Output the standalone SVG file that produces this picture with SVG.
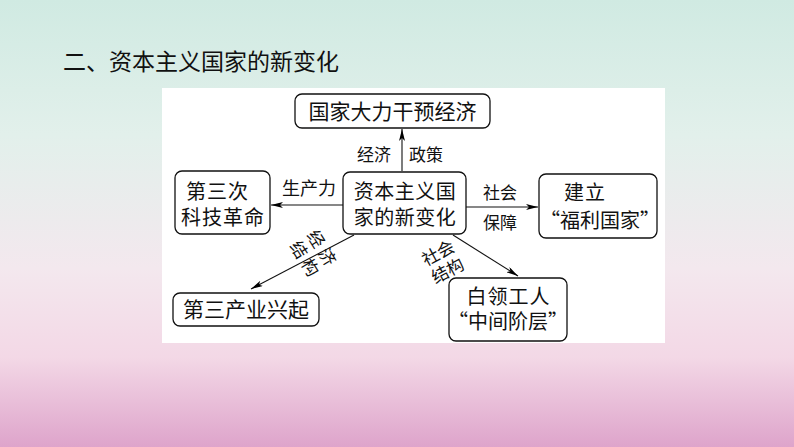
<svg xmlns="http://www.w3.org/2000/svg" width="794" height="447" viewBox="0 0 794 447">
  <defs>
    <linearGradient id="bg" x1="0" y1="0" x2="0" y2="1">
      <stop offset="0" stop-color="#d0eae2"/>
      <stop offset="0.3" stop-color="#e2f0eb"/>
      <stop offset="0.6" stop-color="#f3e8ee"/>
      <stop offset="0.8" stop-color="#f3d8e6"/>
      <stop offset="1" stop-color="#dea4cb"/>
    </linearGradient>
    <marker id="arr" viewBox="0 0 12 6" refX="12" refY="3" markerWidth="12" markerHeight="6" markerUnits="userSpaceOnUse" orient="auto">
      <path d="M0,0 L12,3 L0,6 L3,3 Z" fill="#000"/>
    </marker>
    <style>
      .box{fill:#fff;stroke:#111;stroke-width:1.3}
      .t{font-family:"Noto Sans CJK SC","Noto Sans CJK TC",sans-serif;fill:#111}
      .m{font-family:"Liberation Sans","Noto Sans CJK SC",sans-serif;fill:#111}
      .q{font-family:"Noto Sans CJK SC",sans-serif}
      .n{font-size:20px}
      .l{font-size:17px}
      .c{fill:none;stroke:#111;stroke-width:1.1;marker-end:url(#arr)}
    </style>
  </defs>
  <rect x="0" y="0" width="794" height="447" fill="url(#bg)"/>
  <text class="t" x="63" y="70" font-size="23">二、资本主义国家的新变化</text>
  <rect x="162" y="88" width="503" height="255" fill="#fff"/>

  <g id="connectors">
    <line class="c" x1="402" y1="171" x2="402" y2="129"/>
    <line class="c" x1="343" y1="205" x2="271" y2="205"/>
    <line class="c" x1="466" y1="207" x2="538" y2="207"/>
    <line class="c" x1="354" y1="235" x2="251" y2="289"/>
    <line class="c" x1="453" y1="235" x2="518" y2="276"/>
    <text class="t l" x="357" y="161">经济</text>
    <text class="t l" x="409" y="161">政策</text>
    <text class="t" x="282" y="195" font-size="18">生产力</text>
    <text class="t l" x="483" y="199">社会</text>
    <text class="t l" x="483" y="229">保障</text>
    <g transform="translate(314,255) rotate(58)">
      <text class="m l" x="0" y="-4" text-anchor="middle" letter-spacing="4">经济</text>
      <text class="m l" x="0" y="16" text-anchor="middle" letter-spacing="4">结构</text>
    </g>
    <g transform="translate(443,262) rotate(-28)">
      <text class="m l" x="0" y="-4" text-anchor="middle">社会</text>
      <text class="m l" x="0" y="16" text-anchor="middle">结构</text>
    </g>
  </g>

  <g id="top">
    <rect class="box" x="295" y="94" width="195" height="34" rx="7"/>
    <text class="t" x="392.5" y="119" text-anchor="middle" font-size="21">国家大力干预经济</text>
  </g>
  <g id="center">
    <rect class="box" x="343" y="172" width="123" height="62" rx="7"/>
    <text class="m n" x="405" y="199" text-anchor="middle" letter-spacing="0.5">资本主义国</text>
    <text class="m n" x="405" y="225" text-anchor="middle" letter-spacing="0.5">家的新变化</text>
  </g>
  <g id="left">
    <rect class="box" x="175" y="171" width="95" height="63" rx="7"/>
    <text class="m n" x="186" y="199" letter-spacing="1">第三次</text>
    <text class="m n" x="181" y="225" letter-spacing="1">科技革命</text>
  </g>
  <g id="right">
    <rect class="box" x="539" y="174" width="118" height="64" rx="7"/>
    <text class="m n" x="564" y="200" letter-spacing="1">建立</text>
    <text class="m n" x="600" y="228" text-anchor="middle"><tspan class="q">“</tspan>福利国家<tspan class="q">”</tspan></text>
  </g>
  <g id="bottomleft">
    <rect class="box" x="173" y="293" width="146" height="33" rx="7"/>
    <text class="t" x="246" y="317" text-anchor="middle" font-size="21">第三产业兴起</text>
  </g>
  <g id="bottomright">
    <rect class="box" x="449" y="278" width="118" height="63" rx="7"/>
    <text class="m n" x="508.5" y="304" text-anchor="middle" letter-spacing="1">白领工人</text>
    <text class="m n" x="508" y="329" text-anchor="middle"><tspan class="q">“</tspan>中间阶层<tspan class="q">”</tspan></text>
  </g>
</svg>
